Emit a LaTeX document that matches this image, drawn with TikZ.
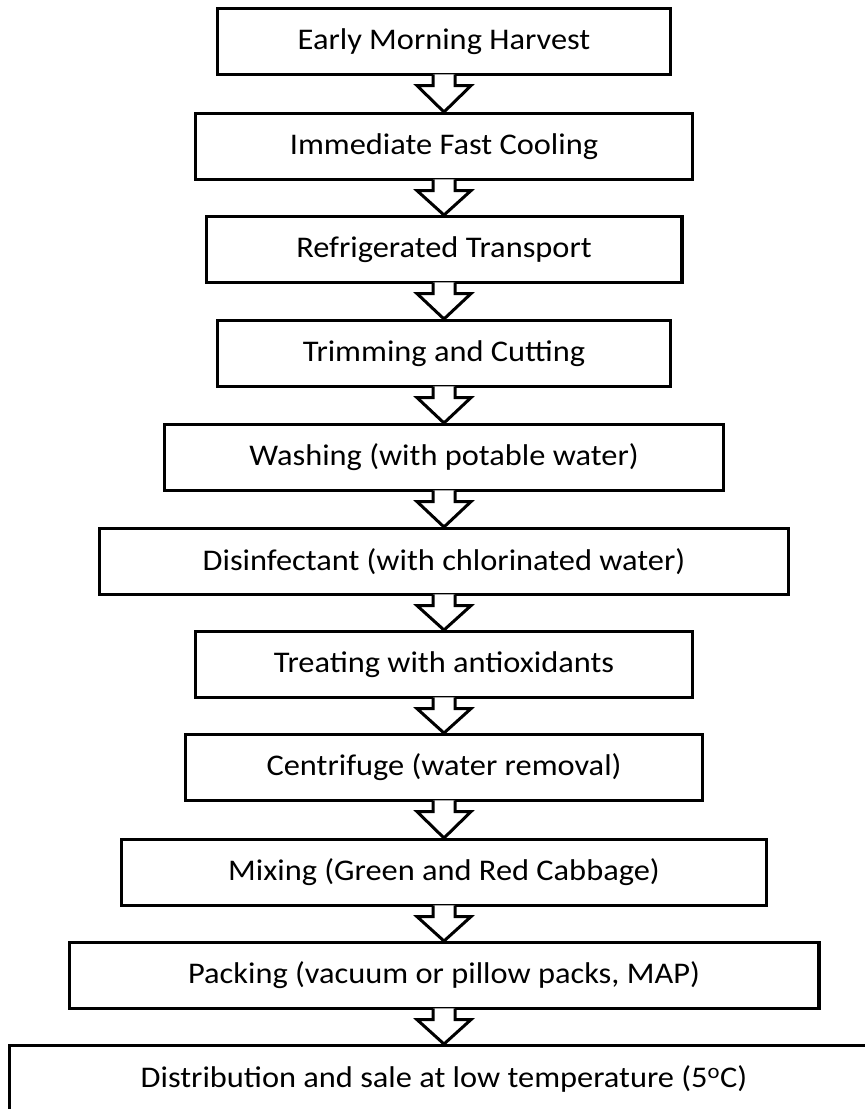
\documentclass[tikz,border=0pt]{standalone}
\usepackage{fontspec}
\setmainfont{Carlito}[FakeStretch=1.08]
\usetikzlibrary{calc}
\newcommand{\blockarrow}[2]{%
  \fill[white] ($(#1.south)+(-11,-1.65)$) |- ($(#1.south)+(-27,9.6)$) -- (#2.north) -- ($(#1.south)+(27,9.6)$) -| ($(#1.south)+(11,-1.65)$) -- cycle;
  \draw[arrline] ($(#1.south)+(-11,-1.65)$) |- ($(#1.south)+(-27,9.6)$) -- (#2.north) -- ($(#1.south)+(27,9.6)$) -| ($(#1.south)+(11,-1.65)$);
}
\begin{document}
\begin{tikzpicture}[x=1pt,y=-1pt,
  stepbox/.style={draw=black, line width=3.3pt, fill=white, minimum height=65.7pt, inner sep=0pt,
    font=\fontsize{30}{36}\selectfont, text=black},
  arrline/.style={draw=black, line width=3pt, line join=miter}]
\useasboundingbox (0,0) rectangle (865,1109);
\node[stepbox, minimum width=452.7pt] (b1) at (444,41.5) {Early Morning Harvest};
\node[stepbox, minimum width=496.7pt] (b2) at (444,146.5) {Immediate Fast Cooling};
\node[stepbox, minimum width=475.7pt] (b3) at (444,249.5) {Refrigerated Transport};
\node[stepbox, minimum width=452.7pt] (b4) at (444,353.5) {Trimming and Cutting};
\node[stepbox, minimum width=558.7pt] (b5) at (444,457.5) {Washing (with potable water)};
\node[stepbox, minimum width=688.7pt] (b6) at (444,561.5) {Disinfectant (with chlorinated water)};
\node[stepbox, minimum width=496.7pt] (b7) at (444,664.5) {Treating with antioxidants};
\node[stepbox, minimum width=516.7pt] (b8) at (444,767.5) {Centrifuge (water removal)};
\node[stepbox, minimum width=644.7pt] (b9) at (444,872.5) {Mixing (Green and Red Cabbage)};
\node[stepbox, minimum width=749.7pt] (b10) at (444,975.5) {Packing (vacuum or pillow packs, MAP)};
\node[stepbox, minimum width=868.7pt] (b11) at (444,1078.5) {Distribution and sale at low temperature (5\textsuperscript{o}C)};
\foreach \a/\b in {b1/b2,b2/b3,b3/b4,b4/b5,b5/b6,b6/b7,b7/b8,b8/b9,b9/b10,b10/b11}
  {\blockarrow{\a}{\b}}
\end{tikzpicture}
\end{document}
